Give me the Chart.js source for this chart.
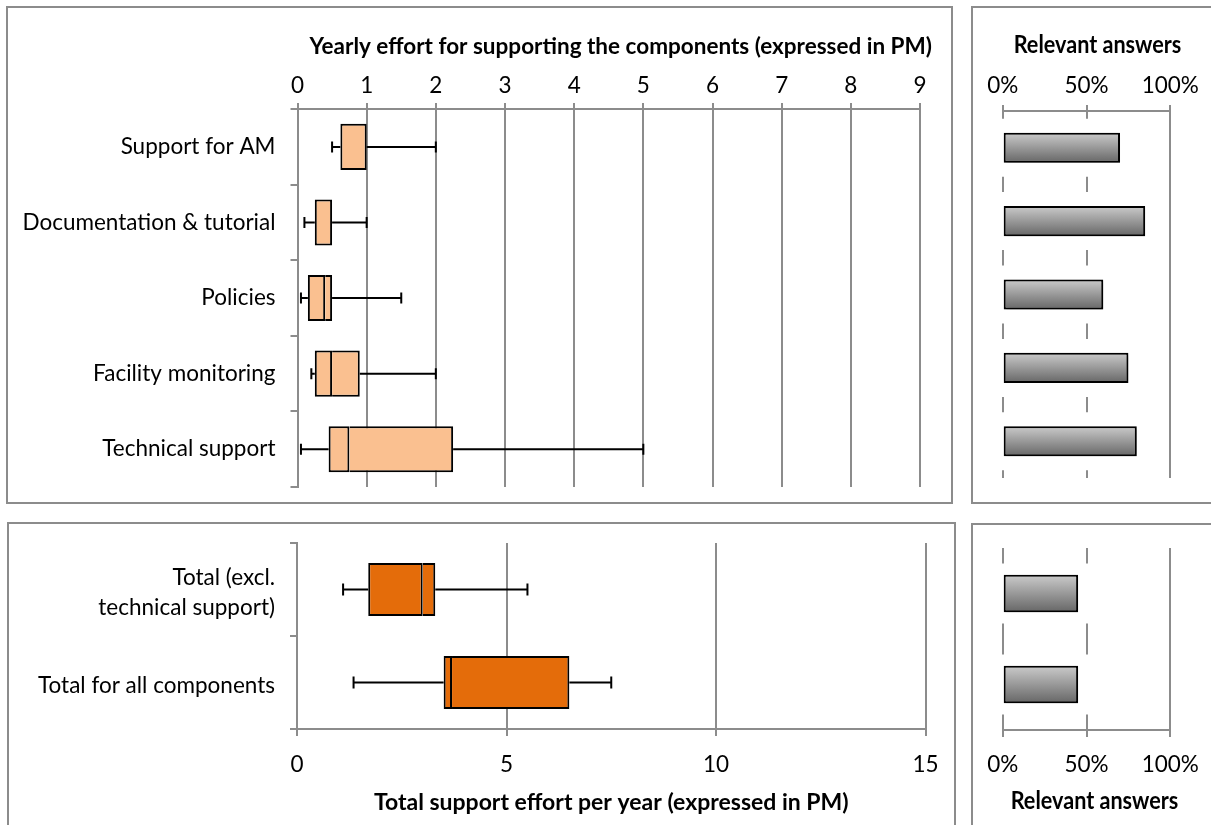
<!DOCTYPE html>
<html>
<head>
<meta charset="utf-8">
<script src="https://cdn.jsdelivr.net/npm/chart.js@4.4.1/dist/chart.umd.min.js"></script>
<style>
  html, body { margin: 0; padding: 0; background: #fff; overflow: hidden; }
  body { width: 1211px; height: 825px; position: relative; }
  .panel { position: absolute; border: 2px solid #8c8c8c; background: #fff; overflow: hidden; }
  .panel canvas { display: block; }
  #pTL { left: 6px; top: 6px; width: 943px; height: 494px; }
  #pTR { left: 971px; top: 6px; width: 260px; height: 494px; }
  #pBL { left: 7px; top: 522px; width: 945px; height: 320px; }
  #pBR { left: 971px; top: 523px; width: 260px; height: 320px; }
</style>
</head>
<body>
<div class="panel" id="pTL"><canvas id="cTL" width="943" height="494"></canvas></div>
<div class="panel" id="pTR"><canvas id="cTR" width="248" height="494"></canvas></div>
<div class="panel" id="pBL"><canvas id="cBL" width="945" height="301"></canvas></div>
<div class="panel" id="pBR"><canvas id="cBR" width="240" height="300"></canvas></div>
<script>
// ---- data: yearly effort per component (person-months) ----
const componentLabels = ['Support for AM', 'Documentation & tutorial', 'Policies', 'Facility monitoring', 'Technical support'];
const componentMin    = [0.5, 0.1, 0.05, 0.2, 0.05];
const componentQ1     = [0.62, 0.25, 0.15, 0.25, 0.45];
const componentMedian = [1.0, 0.5, 0.4, 0.5, 0.75];
const componentQ3     = [1.0, 0.5, 0.5, 0.9, 2.25];
const componentMax    = [2.0, 1.0, 1.5, 2.0, 5.0];
const componentRelevant = [70, 85, 60, 75, 80];   // % of relevant answers

// ---- data: total support effort (person-months) ----
const totalLabels = [['Total (excl.', 'technical support)'], 'Total for all components'];
const totalMin    = [1.1, 1.35];
const totalQ1     = [1.7, 3.5];
const totalMedian = [3.0, 3.7];
const totalQ3     = [3.3, 6.5];
const totalMax    = [5.5, 7.5];
const totalRelevant = [45, 45];                    // % of relevant answers

// ---- axis ticks ----
const effortTicks = [0, 1, 2, 3, 4, 5, 6, 7, 8, 9];
const totalTicks = [0, 5, 10, 15];
const percentTicks = [0, 50, 100];

const FONT = 'Lato, "Open Sans", sans-serif';
const GRID = '#8c8c8c';
const BLACK = '#000';
const TITLE_FONT = { weight: 'bold', size: 23 };
const SIDE_TITLE_FONT = { weight: 'bold', size: 25.5 };

Chart.defaults.font.family = FONT;
Chart.defaults.font.size = 22.5;
Chart.defaults.color = BLACK;
Chart.defaults.animation = false;
Chart.defaults.plugins.legend.display = false;
Chart.defaults.plugins.tooltip.enabled = false;

// whiskers: line from min to Q1 and Q3 to max, with end caps
const whiskers = {
  id: 'whiskers',
  afterDatasetsDraw(chart, args, opts) {
    const { ctx, scales: { x, y } } = chart;
    ctx.save();
    ctx.strokeStyle = BLACK;
    ctx.lineWidth = 2;
    opts.min.forEach((mn, i) => {
      const yc = y.getPixelForValue(i);
      const pMin = x.getPixelForValue(mn), pQ1 = x.getPixelForValue(opts.q1[i]);
      const pQ3 = x.getPixelForValue(opts.q3[i]), pMax = x.getPixelForValue(opts.max[i]);
      ctx.beginPath();
      ctx.moveTo(pMin, yc); ctx.lineTo(pQ1, yc);
      ctx.moveTo(pQ3, yc); ctx.lineTo(pMax, yc);
      ctx.moveTo(pMin, yc - opts.cap); ctx.lineTo(pMin, yc + opts.cap);
      ctx.moveTo(pMax, yc - opts.cap); ctx.lineTo(pMax, yc + opts.cap);
      ctx.stroke();
    });
    ctx.restore();
  }
};

// grid lines interrupted around the bars; the last line is drawn full length
const bandGrid = {
  id: 'bandGrid',
  beforeDatasetsDraw(chart, args, opts) {
    const { ctx, chartArea: { top, bottom }, scales: { x, y } } = chart;
    const n = y.getLabels().length;
    const band = (bottom - top) / n;
    const gap = band / 2 - opts.cover;
    ctx.save();
    ctx.strokeStyle = GRID;
    ctx.lineWidth = 2;
    x.ticks.forEach(t => {
      const px = Math.round(x.getPixelForValue(t.value));
      ctx.beginPath();
      if (t.value === x.max) {
        ctx.moveTo(px, top); ctx.lineTo(px, bottom);
      } else {
        for (let k = 0; k <= n; k++) {
          const yb = top + k * band;
          ctx.moveTo(px, Math.max(top, yb - gap));
          ctx.lineTo(px, Math.min(bottom, yb + gap));
        }
      }
      ctx.stroke();
    });
    ctx.restore();
  }
};

// nudges the chart title sideways after layout
const titleShift = {
  id: 'titleShift',
  afterLayout(chart, args, opts) {
    const t = chart.titleBlock;
    if (t && opts.dx) { t.left += opts.dx; t.right += opts.dx; }
  }
};

// soft drop shadow under the percentage bars
const barShadow = {
  id: 'barShadow',
  beforeDatasetDraw(chart) {
    const ctx = chart.ctx;
    ctx.save();
    ctx.shadowColor = 'rgba(0,0,0,0.35)';
    ctx.shadowBlur = 4;
    ctx.shadowOffsetX = 2;
    ctx.shadowOffsetY = 2;
  },
  afterDatasetDraw(chart) { chart.ctx.restore(); }
};

function grayGradient(c) {
  const chart = c.chart;
  const area = chart.chartArea;
  if (!area || c.type !== 'data') return '#999';
  const y = chart.scales.y;
  const n = y.getLabels().length;
  const half = (area.bottom - area.top) / n * 0.41 / 2;
  const yc = y.getPixelForValue(c.dataIndex);
  const g = chart.ctx.createLinearGradient(0, yc - half, 0, yc + half);
  g.addColorStop(0, '#cbcbcb');
  g.addColorStop(1, '#666666');
  return g;
}

// lower box (Q1..median) with full outline, upper box (median..Q3) sharing the median edge
function boxDatasets(q1, med, q3, color, pct) {
  const common = {
    backgroundColor: color, borderColor: BLACK, borderWidth: 2,
    grouped: false, barPercentage: pct, categoryPercentage: 1
  };
  return [
    Object.assign({ data: q1.map((v, i) => [v, med[i]]), borderSkipped: false }, common),
    Object.assign({ data: med.map((v, i) => [v, q3[i]]), borderSkipped: 'left' }, common)
  ];
}

function fixSize(prop, val) { return s => { s[prop] = val; }; }
// fixed-width category axis that does not reserve extra room for its end labels
function fixWidthNoPad(val) {
  return s => { s.width = val; s.paddingTop = 0; s.paddingBottom = 0; };
}

// ---------- top left: effort per component ----------
new Chart(document.getElementById('cTL'), {
  type: 'bar',
  data: { labels: componentLabels, datasets: boxDatasets(componentQ1, componentMedian, componentQ3, '#FAC090', 0.61) },
  options: {
    responsive: false, devicePixelRatio: 1, indexAxis: 'y',
    layout: { padding: { left: 0, right: 31, top: 0, bottom: 15 } },
    scales: {
      x: {
        position: 'top', min: 0, max: 9,
        afterFit: fixSize('height', 49),
        afterBuildTicks: s => { s.ticks = effortTicks.map(v => ({ value: v })); },
        ticks: { padding: 3.5, color: BLACK },
        grid: { color: GRID, lineWidth: 2, tickLength: 6 },
        border: { display: true, color: GRID, width: 2 }
      },
      y: {
        afterFit: fixWidthNoPad(289.5),
        ticks: { padding: 15, color: BLACK },
        grid: { drawOnChartArea: false, offset: true, tickLength: 7, color: GRID, lineWidth: 2 },
        border: { display: true, color: GRID, width: 2 }
      }
    },
    plugins: {
      title: { display: true, fullSize: false, text: 'Yearly effort for supporting the components (expressed in PM)',
               font: TITLE_FONT, color: BLACK, padding: { top: 24.5, bottom: 0 } },
      titleShift: { dx: 12 },
      whiskers: { min: componentMin, q1: componentQ1, q3: componentQ3, max: componentMax, cap: 5.5 }
    }
  },
  plugins: [whiskers, titleShift]
});

// ---------- top right: relevant answers per component ----------
new Chart(document.getElementById('cTR'), {
  type: 'bar',
  data: { labels: componentLabels, datasets: [{
    data: componentRelevant, backgroundColor: grayGradient, borderColor: BLACK, borderWidth: 2,
    borderSkipped: false, barPercentage: 0.41, categoryPercentage: 1
  }] },
  options: {
    responsive: false, devicePixelRatio: 1, indexAxis: 'y',
    layout: { padding: { left: 29.7, right: 50.7, top: 0, bottom: 24 } },
    scales: {
      x: {
        position: 'top', min: 0, max: 100,
        afterFit: fixSize('height', 50.5),
        afterBuildTicks: s => { s.ticks = percentTicks.map(v => ({ value: v })); },
        ticks: { padding: 5.5, color: BLACK, callback: v => v + '%' },
        grid: { drawOnChartArea: false, color: GRID, lineWidth: 2, tickLength: 6 },
        border: { display: true, color: GRID, width: 2 }
      },
      y: { display: false }
    },
    plugins: {
      title: { display: true, text: 'Relevant answers', font: SIDE_TITLE_FONT, color: BLACK,
               padding: { top: 21.9, bottom: 0 } },
      titleShift: { dx: 11 },
      bandGrid: { cover: 29 }
    }
  },
  plugins: [bandGrid, barShadow, titleShift]
});

// ---------- bottom left: total support effort ----------
new Chart(document.getElementById('cBL'), {
  type: 'bar',
  data: { labels: totalLabels, datasets: boxDatasets(totalQ1, totalMedian, totalQ3, '#E46C0A', 0.57) },
  options: {
    responsive: false, devicePixelRatio: 1, indexAxis: 'y',
    layout: { padding: { left: 0, right: 28.5, top: 19, bottom: 0 } },
    scales: {
      x: {
        position: 'bottom', min: 0, max: 15,
        afterFit: fixSize('height', 96),
        afterBuildTicks: s => { s.ticks = totalTicks.map(v => ({ value: v })); },
        ticks: { padding: 15, color: BLACK },
        grid: { color: GRID, lineWidth: 2, tickLength: 7 },
        border: { display: true, color: GRID, width: 2 },
        title: { display: true, text: 'Total support effort per year (expressed in PM)',
                 font: TITLE_FONT, padding: { top: 0, bottom: 8.2 }, color: BLACK }
      },
      y: {
        afterFit: fixWidthNoPad(288),
        ticks: { padding: 15, color: BLACK, labelOffset: 3.5, font: { lineHeight: 1.33 } },
        grid: { drawOnChartArea: false, offset: true, tickLength: 7, color: GRID, lineWidth: 2 },
        border: { display: true, color: GRID, width: 2 }
      }
    },
    plugins: { whiskers: { min: totalMin, q1: totalQ1, q3: totalQ3, max: totalMax, cap: 6 } }
  },
  plugins: [whiskers]
});

// ---------- bottom right: relevant answers for totals ----------
new Chart(document.getElementById('cBR'), {
  type: 'bar',
  data: { labels: totalLabels, datasets: [{
    data: totalRelevant, backgroundColor: grayGradient, borderColor: BLACK, borderWidth: 2,
    borderSkipped: false, barPercentage: 0.41, categoryPercentage: 1
  }] },
  options: {
    responsive: false, devicePixelRatio: 1, indexAxis: 'y',
    layout: { padding: { left: 29.7, right: 42.7, top: 23, bottom: 0 } },
    scales: {
      x: {
        position: 'bottom', min: 0, max: 100,
        afterFit: fixSize('height', 55.7),
        afterBuildTicks: s => { s.ticks = percentTicks.map(v => ({ value: v })); },
        ticks: { padding: 14, color: BLACK, callback: v => v + '%' },
        grid: { drawOnChartArea: false, color: GRID, lineWidth: 2, tickLength: 7 },
        border: { display: true, color: GRID, width: 2 }
      },
      y: { display: false }
    },
    plugins: {
      title: { display: true, position: 'bottom', text: 'Relevant answers', font: SIDE_TITLE_FONT,
               color: BLACK, padding: { top: 0, bottom: 8.7 } },
      titleShift: { dx: 8 },
      bandGrid: { cover: 30 }
    }
  },
  plugins: [bandGrid, barShadow, titleShift]
});
</script>
</body>
</html>
